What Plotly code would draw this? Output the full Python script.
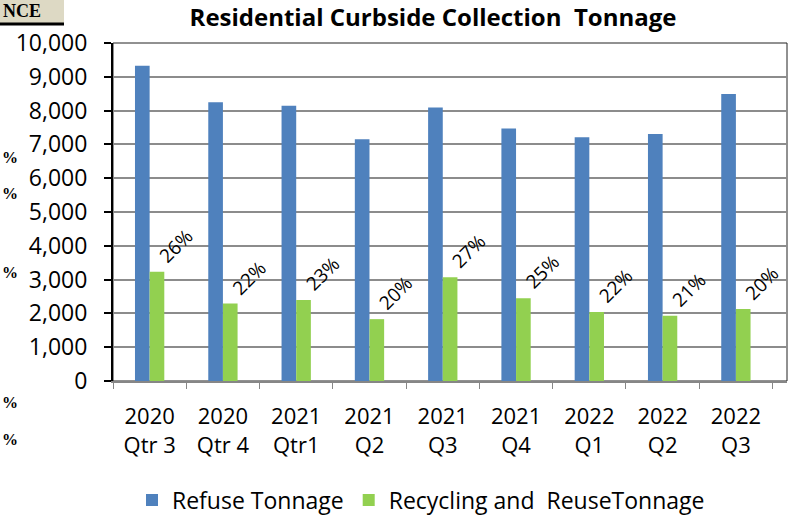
import plotly.graph_objects as go

# Data
quarters = ["2020<br>Qtr 3", "2020<br>Qtr 4", "2021<br>Qtr1", "2021<br>Q2", "2021<br>Q3",
            "2021<br>Q4", "2022<br>Q1", "2022<br>Q2", "2022<br>Q3"]
refuse_tons = [9330, 8250, 8140, 7150, 8090, 7470, 7210, 7310, 8490]
recycling_tons = [3230, 2290, 2400, 1830, 3070, 2450, 2040, 1930, 2130]
diversion_labels = ["26%", "22%", "23%", "20%", "27%", "25%", "22%", "21%", "20%"]

W, H = 797, 517
L, R, T, B = 113, 787, 43, 381
FONT = "Open Sans"


def px_x(p):
    return (p - L) / (R - L)


def px_y(p):
    return (B - p) / (B - T)


fig = go.Figure()

fig.add_trace(
    go.Bar(
        x=quarters,
        y=refuse_tons,
        name="Refuse Tonnage",
        marker=dict(color="#4F81BD", line=dict(width=0)),
    )
)
fig.add_trace(
    go.Bar(
        x=quarters,
        y=recycling_tons,
        name="Recycling and  ReuseTonnage",
        marker=dict(color="#92D050", line=dict(width=0)),
    )
)

# rotated percentage labels above the green bars
for q, v, lbl in zip(quarters, recycling_tons, diversion_labels):
    fig.add_annotation(
        x=q, y=v, xref="x", yref="y", text=lbl, showarrow=False,
        textangle=-45, xshift=26, yshift=26,
        font=dict(family=FONT, size=19, color="black"),
    )

# plot border (top/right)
fig.add_shape(type="rect", xref="paper", yref="paper", x0=0, x1=1, y0=0, y1=1,
              line=dict(color="#222222", width=1), layer="below")

# cropped page fragments on the left edge
fig.add_shape(type="rect", xref="paper", yref="paper",
              x0=px_x(-5), x1=px_x(64), y0=px_y(23), y1=px_y(-5),
              fillcolor="#DDD9C4", line=dict(width=0))
fig.add_shape(type="line", xref="paper", yref="paper",
              x0=px_x(0), x1=px_x(64), y0=px_y(24), y1=px_y(24),
              line=dict(color="black", width=3))
fig.add_annotation(xref="paper", yref="paper", x=px_x(1), y=px_y(11),
                   xanchor="left", yanchor="middle", text="<b>NCE</b>",
                   showarrow=False,
                   font=dict(family="Liberation Serif", size=18, color="black"))
for yp in [157, 194, 272, 402, 440]:
    fig.add_annotation(xref="paper", yref="paper", x=px_x(0), y=px_y(yp),
                       xanchor="left", yanchor="middle", text="<b>%</b>",
                       showarrow=False,
                       font=dict(family="Liberation Serif", size=16, color="black"))

fig.update_layout(
    width=W,
    height=H,
    margin=dict(l=L, r=W - R, t=T, b=H - B, pad=0, autoexpand=False),
    title=dict(
        text="<b>Residential Curbside Collection  Tonnage</b>",
        x=433 / W, xref="container", xanchor="center",
        y=1 - 18 / H, yref="container", yanchor="middle",
        font=dict(family=FONT, size=24, color="black"),
    ),
    barmode="group",
    bargap=0.6,
    bargroupgap=0,
    plot_bgcolor="white",
    paper_bgcolor="white",
    showlegend=True,
    legend=dict(
        orientation="h",
        x=px_x(421), xanchor="center",
        y=px_y(500), yanchor="middle",
        font=dict(family=FONT, size=23, color="black"),
        itemwidth=30,
    ),
    font=dict(family=FONT, color="black"),
)

fig.update_xaxes(
    type="category",
    automargin=False,
    showline=True,
    linecolor="#868686",
    linewidth=2,
    ticks="outside",
    tickson="boundaries",
    ticklen=6,
    tickcolor="#868686",
    tickwidth=1,
    ticklabelstandoff=15,
    showgrid=False,
    tickfont=dict(family=FONT, size=22, color="black"),
)

fig.update_yaxes(
    automargin=False,
    range=[0, 10000],
    dtick=1000,
    tickformat=",",
    showline=True,
    linecolor="black",
    linewidth=2,
    ticks="outside",
    ticklen=7,
    tickcolor="black",
    tickwidth=2,
    ticklabelstandoff=12,
    showgrid=True,
    gridcolor="#8C8C8C",
    gridwidth=1.5,
    zeroline=False,
    tickfont=dict(family=FONT, size=23, color="black"),
)

# the page's default body margin would shift the chart by 8px
fig.write_html(
    "out.html",
    config={"displayModeBar": False},
    post_script="document.body.style.margin = '0';",
)
